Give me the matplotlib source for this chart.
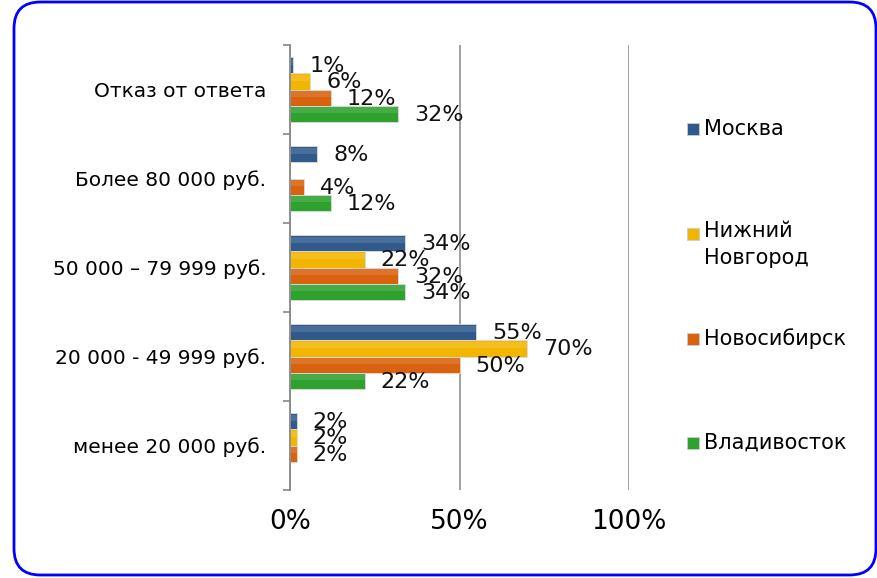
import matplotlib.pyplot as plt
import numpy as np
from matplotlib.patches import FancyBboxPatch, Rectangle

# income groups, bottom to top as drawn
categories = ['менее 20 000 руб.', '20 000 - 49 999 руб.', '50 000 – 79 999 руб.',
              'Более 80 000 руб.', 'Отказ от ответа']
cities = ['Москва', 'Нижний\nНовгород', 'Новосибирск', 'Владивосток']
# percent per city, same order as categories (0 = no bar)
moscow = [2, 55, 34, 8, 1]
nizhny = [2, 70, 22, 0, 6]
novosib = [2, 50, 32, 4, 12]
vladivostok = [0, 22, 34, 12, 32]
series = [moscow, nizhny, novosib, vladivostok]
colors = ['#2F5A8B', '#F2B600', '#D8620E', '#2EA12E']

plt.rcParams['font.family'] = ['DejaVu Sans']

fig = plt.figure(figsize=(8.78, 5.78), dpi=100)
ax = fig.add_axes([0.3303, 0.1522, 0.3861, 0.7699])

y = np.arange(len(categories))
h = 0.182
offsets = [1.5 * h, 0.5 * h, -0.5 * h, -1.5 * h]

for vals, col, off in zip(series, colors, offsets):
    for yi, v in zip(y, vals):
        if v == 0:
            continue
        ax.barh(yi + off, v, height=h, color=col, edgecolor='#dddddd', linewidth=0.6)
        # light top highlight for the glossy look
        ax.barh(yi + off + h * 0.22, v, height=h * 0.35, color='white', alpha=0.12, linewidth=0)
        ax.annotate(f'{v}%', (v, yi + off), xytext=(16, -1), textcoords='offset pixels',
                    va='center', ha='left', fontsize=16, color='#111111')

ax.set_xlim(0, 100)
ax.set_ylim(-0.5, len(categories) - 0.5)
ax.set_xticks([0, 50, 100])
ax.set_xticklabels(['0%', '50%', '100%'], fontsize=19)
ax.tick_params(axis='x', length=0, pad=14)
ax.set_yticks(y)
ax.set_yticklabels(categories, fontsize=14.5)
ax.set_yticks(np.arange(-0.5, len(categories), 1), minor=True)
ax.tick_params(axis='y', which='major', length=0, pad=17)
ax.tick_params(axis='y', which='minor', length=5, color='#888888', width=1.2)

ax.grid(axis='x', color='#999999', linewidth=1.3)
ax.set_axisbelow(True)
for s in ['top', 'right', 'bottom']:
    ax.spines[s].set_visible(False)
ax.spines['left'].set_color('#888888')
ax.spines['left'].set_linewidth(1.3)

# legend drawn by hand to keep the wide spacing
leg_y = [129, 234, 339, 443]
for name, col, ly in zip(cities, colors, leg_y):
    fy = 1 - ly / 578
    fig.patches.append(Rectangle((687 / 878, fy - 6 / 578), 12 / 878, 12 / 578,
                                 transform=fig.transFigure, facecolor=col,
                                 edgecolor='#cccccc', linewidth=0.6))
    if '\n' in name:
        fig.text(704 / 878, fy + 13 / 578, name, fontsize=15, va='top', ha='left',
                 linespacing=1.45)
    else:
        fig.text(704 / 878, fy, name, fontsize=15, va='center', ha='left')

# rounded blue frame
frame = FancyBboxPatch((14 / 878, 3 / 578), 862 / 878, 573 / 578,
                       boxstyle='round,pad=0,rounding_size=0.03',
                       transform=fig.transFigure, facecolor='none',
                       edgecolor='#0000FF', linewidth=2, mutation_aspect=878 / 578)
fig.patches.append(frame)

fig.savefig('out.png', dpi=100)
